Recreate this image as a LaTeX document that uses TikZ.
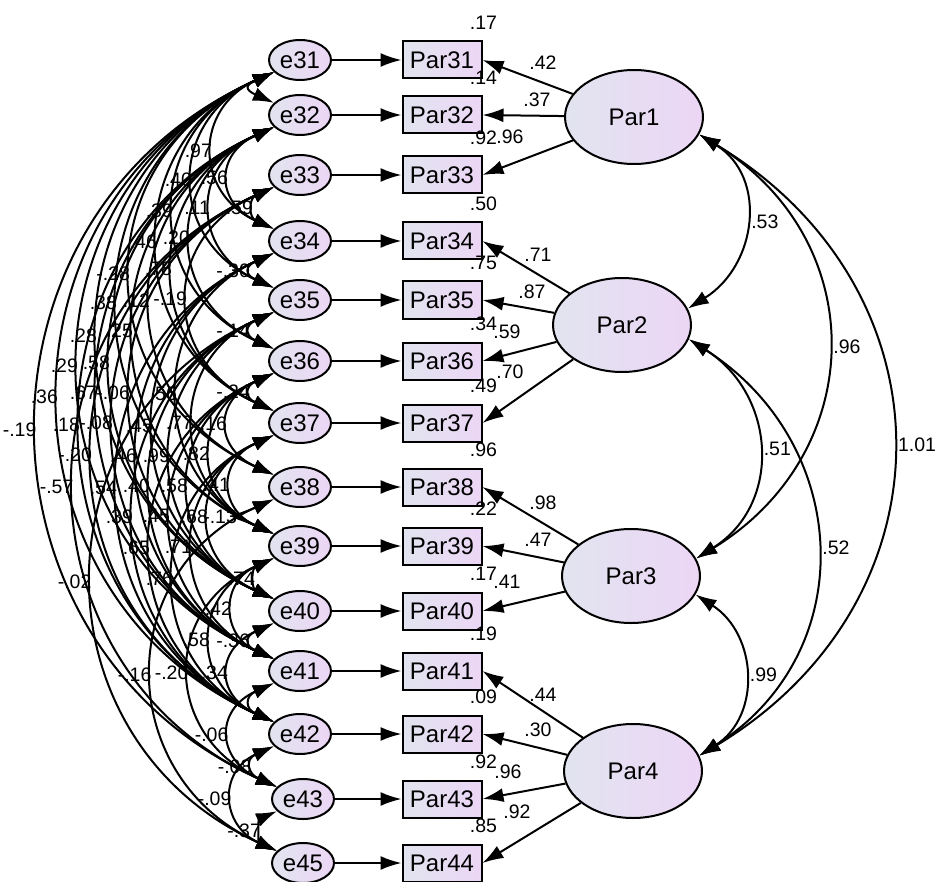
\documentclass[tikz,border=0pt]{standalone}
\usepackage{fontspec}
\setmainfont{Liberation Sans}
\usetikzlibrary{arrows.meta,shapes.geometric}
\definecolor{fillL}{RGB}{226,228,240}
\definecolor{fillR}{RGB}{236,214,245}

\begin{document}
\begin{tikzpicture}[x=1pt,y=-1pt,line width=2pt,>={Latex[length=21pt,width=14pt]}]
    \tikzset {
      latent/.style={ellipse,draw,left color=fillL,right color=fillR,minimum width=138pt,minimum height=94pt,font=\fontsize{24}{26}\selectfont},
      err/.style={ellipse,draw,left color=fillL,right color=fillR,minimum width=62pt,minimum height=40pt,inner sep=0pt,font=\fontsize{24}{26}\selectfont},
      item/.style={rectangle,draw,left color=fillL,right color=fillR,minimum width=79pt,minimum height=37pt,inner sep=0pt,font=\fontsize{24}{26}\selectfont},
      lbl/.style={font=\fontsize{19.5}{21}\selectfont,inner sep=1pt},
      flbl/.style={lbl,right,pos=0.5,xshift=4pt}
    }
    \useasboundingbox (0,0) rectangle (936,882);

    % error terms, indicators
    \foreach \e/\b/\x/\y in {31/31/300/60, 32/32/300/115, 33/33/300/175, 34/34/300/241, 35/35/300/300,
      36/36/300/361, 37/37/300/423, 38/38/300/487, 39/39/300/546, 40/40/300/611, 41/41/300/671,
      42/42/300/734, 43/43/303/799, 45/44/303/863} {
      \node [err] (e\e) at (\x,\y) {e\e};
      \node [item] (par\b) at (442,\y) {Par\b};
      \draw [->] (e\e) -- (par\b);
    }

    % factors
    \node [latent] (par1) at (634,117) {Par1};
    \node [latent] (par2) at (622,325) {Par2};
    \node [latent] (par3) at (631,576) {Par3};
    \node [latent] (par4) at (633,771) {Par4};

    \foreach \f/\b in {1/31,1/32,1/33,2/34,2/35,2/36,2/37,3/38,3/39,3/40,4/41,4/42,4/43,4/44}
      \draw [->] (par\f) -- (par\b.east);

    \foreach \x/\y/\t [count=\i] in {543/63/.42, 537/100/.37, 510/137/.96, 538/255/.71, 532/292/.87,
      507/332/.59, 510/372/.70, 543/503/.98, 538/540/.47, 507/582/.41, 543/695/.44, 538/730/.30,
      508/772/.96, 517/812/.92}
      \node [lbl] (w\i) at (\x,\y) {\t};

    \foreach \b/\t in {31/.17, 32/.14, 33/.92, 34/.50, 35/.75, 36/.34, 37/.49, 38/.96, 39/.22,
      40/.17, 41/.19, 42/.09, 43/.92, 44/.85}
      \node [lbl] (r\b) at ([xshift=1pt,yshift=18pt]par\b.north east) {\t};

    % factor covariances
    \draw [<->] (par1.-15) .. controls +(69,43) and +(69,-43) .. (par2.14) node [flbl] (c12) {.53};
    \draw [<->] (par1.-15) .. controls +(173,106) and +(173,-106) .. (par3.15) node [flbl] (c13) {.96};
    \draw [<->] (par1.-15) .. controls +(257,155) and +(257,-155) .. (par4.13) node [flbl] (c14) {1.01};
    \draw [<->] (par2.-12) .. controls +(87,55) and +(87,-55) .. (par3.15) node [flbl] (c23) {.51};
    \draw [<->] (par2.-12) .. controls +(163,104) and +(163,-104) .. (par4.13) node [flbl] (c24) {.52};
    \draw [<->] (par3.-16) .. controls +(62,40) and +(62,-40) .. (par4.13) node [flbl] (c34) {.99};

    % error covariances
    \foreach \a/\b/\lx/\t in {31/34/202/.97, 31/35/182/.40, 32/34/218/.56, 31/36/163/.39, 32/35/200/.11,
      33/34/243/.59, 31/37/147/.46, 32/36/180/.20, 31/38/120/-.28, 32/37/162/.78, 34/35/240/-.30,
      31/39/107/.38, 32/38/140/.12, 33/37/177/-.19, 31/40/87/.28, 32/39/123/.25, 35/36/240/-.14,
      31/41/68/.29, 32/40/100/.58, 31/42/48/.36, 32/41/87/.67, 33/40/120/-.06, 34/39/167/.56,
      36/37/240/-.24, 31/43/25/-.19, 32/42/70/.18, 33/41/103/-.08, 34/40/143/.45, 35/39/183/.77,
      36/38/217/.16, 33/42/82/-.20, 34/41/127/.46, 35/40/160/.99, 36/39/200/.82, 33/43/62/-.57,
      34/42/107/.54, 35/41/140/.40, 36/40/178/.58, 37/39/220/.41, 35/42/123/.39, 36/41/160/.45,
      37/40/198/.68, 38/39/227/-.13, 36/42/140/.65, 37/41/182/.71, 37/42/163/.76, 35/45/80/-.02,
      39/40/245/.74, 39/41/222/.42, 39/42/200/.58, 40/41/240/-.36, 38/45/140/-.16, 39/43/177/-.20,
      40/42/218/.34, 41/43/217/-.06, 42/43/240/-.08, 42/45/220/-.09, 43/45/248/-.37} {
      \pgfmathsetmacro\c{(262-\lx)/0.75}
      \pgfmathsetmacro\k{0.45*\c}
      \draw [<->] (e\a.205) .. controls +(-\c,\k) and +(-\c,-\k) .. (e\b.155) node [lbl,left,pos=0.5] (v\a\b) {\t};
    }
    \draw [<->] (e31.205) .. controls +(-29,13) and +(-29,-13) .. (e32.155);
    \draw [<->] (e41.205) .. controls +(-29,13) and +(-29,-13) .. (e42.155);
  \end{tikzpicture}
\end{document}
